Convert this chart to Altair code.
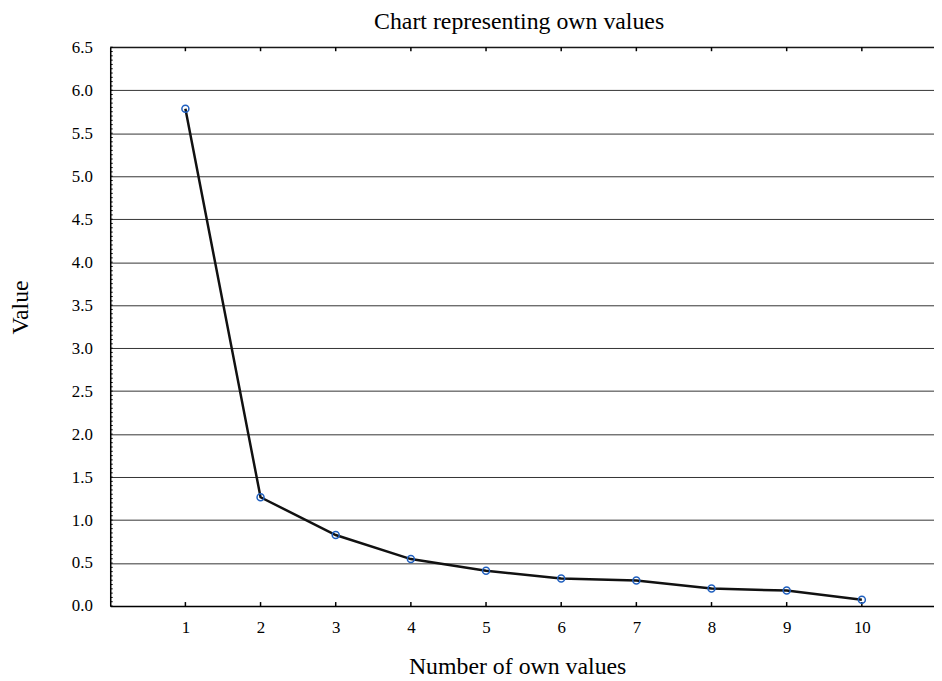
import altair as alt
import pandas as pd

components = [1, 2, 3, 4, 5, 6, 7, 8, 9, 10]
eigenvalues = [5.785, 1.265, 0.826, 0.546, 0.411, 0.319, 0.296, 0.203, 0.180, 0.073]
y_ticks = [0.0, 0.5, 1.0, 1.5, 2.0, 2.5, 3.0, 3.5, 4.0, 4.5, 5.0, 5.5, 6.0, 6.5]
x_ticks = [1, 2, 3, 4, 5, 6, 7, 8, 9, 10]
minor_y = [round(i * 0.05, 2) for i in range(131)]
chart_title = ["Chart representing own values"]

FONT = "Liberation Serif"
W, H = 830, 563

df = pd.DataFrame({"n": components, "v": eigenvalues})
df_minor = pd.DataFrame({"v": minor_y})
df_xt = pd.DataFrame({"n": x_ticks})
df_top = pd.DataFrame({"v": [6.5]})
df_title = pd.DataFrame({"t": chart_title})

xs = alt.Scale(domain=[0, 10.96], nice=False, zero=False)
ys = alt.Scale(domain=[0, 6.5], nice=False)

x_axis = alt.Axis(
    values=x_ticks, title="Number of own values", grid=False,
    ticks=False, tickSize=0, labelPadding=27, labelBaseline="alphabetic",
    labelFont=FONT, labelFontSize=17, labelColor="black",
    titleFont=FONT, titleFontSize=24, titleFontWeight="normal", titleColor="black",
    titleX=410, titleY=67.7, titleBaseline="alphabetic", titleAlign="center",
    domainColor="black", domainWidth=1.5)
y_axis = alt.Axis(
    values=y_ticks, format=".1f", title="Value", grid=True,
    gridColor="#333333", gridWidth=1,
    ticks=False, tickSize=0, labelPadding=18,
    labelFont=FONT, labelFontSize=17, labelColor="black",
    titleFont=FONT, titleFontSize=24, titleFontWeight="normal", titleColor="black",
    titleX=-83, titleY=261.7, titleBaseline="alphabetic", titleAlign="center",
    titleAngle=270,
    domainColor="black", domainWidth=1.5)

X = alt.X("n:Q", scale=xs, axis=x_axis)
Y = alt.Y("v:Q", scale=ys, axis=y_axis)

line = alt.Chart(df).mark_line(color="#111111", strokeWidth=2.5).encode(x=X, y=Y)

points = alt.Chart(df).mark_point(
    shape="circle", filled=False, color="#1f5fbf", strokeWidth=1.5, size=50, opacity=1
).encode(x=X, y=Y)

minor = alt.Chart(df_minor).mark_rule(color="black", strokeWidth=1).encode(
    y=Y, x=alt.value(0), x2=alt.value(2.5))

bottom_ticks = alt.Chart(df_xt).mark_rule(color="black", strokeWidth=1.5).encode(
    x=X, y=alt.value(H), y2=alt.value(H - 4))

top_ticks = alt.Chart(df_xt).mark_rule(color="black", strokeWidth=1.5).encode(
    x=X, y=alt.value(0), y2=alt.value(4))

top_line = alt.Chart(df_top).mark_rule(color="black", strokeWidth=1.2).encode(y=Y)

title = alt.Chart(df_title).mark_text(
    font=FONT, fontSize=24, color="black", align="center", baseline="alphabetic"
).encode(text="t:N", x=alt.value(412), y=alt.value(-18))

chart = alt.layer(line, minor, bottom_ticks, top_ticks, top_line, points, title).properties(
    width=W,
    height=H,
    autosize=alt.AutoSizeParams(type="none"),
    padding={"left": 103, "top": 37, "right": 0, "bottom": 73},
).configure_view(strokeWidth=0).configure(background="white")

chart.save("out.html", embed_options={"renderer": "svg", "actions": False})
